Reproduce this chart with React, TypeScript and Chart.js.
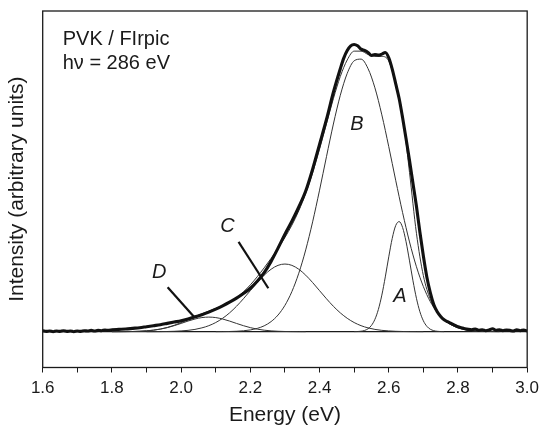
import React, { useEffect, useRef } from 'react';
import { Chart, registerables } from 'chart.js';

Chart.register(...registerables);

const FONT = '"Liberation Sans", Arial, Helvetica, sans-serif';
const INK = '#1a1a1a';

// ---- axis ----
const xMin = 1.6;
const xMax = 3.0;
const yMin = -108;
const yMax = 967;
const xTickValues = [1.6, 1.7, 1.8, 1.9, 2.0, 2.1, 2.2, 2.3, 2.4, 2.5, 2.6, 2.7, 2.8, 2.9, 3.0];
const xTickLabels = ['1.6', '', '1.8', '', '2.0', '', '2.2', '', '2.4', '', '2.6', '', '2.8', '', '3.0'];
const xTitle = 'Energy (eV)';
const yTitle = 'Intensity (arbitrary units)';

// ---- measured spectrum ----
const dataEnergy = [
  1.60, 1.61, 1.62, 1.63, 1.64, 1.65, 1.66, 1.67, 1.68, 1.69, 1.70, 1.71, 1.72, 1.73, 1.74, 1.75, 1.76, 1.77, 1.78, 1.79, 1.80,
  1.82, 1.84, 1.86, 1.88, 1.90, 1.92, 1.94, 1.96, 1.98, 2.00, 2.02, 2.04, 2.06, 2.08, 2.10, 2.12, 2.14, 2.16, 2.18, 2.20,
  2.22, 2.24, 2.26, 2.28, 2.30, 2.32, 2.34, 2.36, 2.38, 2.40, 2.42, 2.44, 2.46,
  2.47, 2.48, 2.49, 2.50, 2.51, 2.52, 2.53, 2.54, 2.55, 2.56, 2.57, 2.58, 2.59, 2.60,
  2.61, 2.62, 2.63, 2.64, 2.65, 2.66, 2.67, 2.68, 2.69, 2.70, 2.71, 2.72, 2.73, 2.74, 2.75, 2.76, 2.77, 2.78, 2.79, 2.80,
  2.81, 2.82, 2.83, 2.84, 2.85, 2.86, 2.87, 2.88, 2.89, 2.90, 2.91, 2.92, 2.93, 2.94, 2.95, 2.96, 2.97, 2.98, 2.99, 3.00,
];
const dataIntensity = [
  3, 1, 2, 0, 2, 1, 3, 1, 2, 0, 2, 1, 3, 2, 4, 2, 4, 3, 5, 4, 6,
  7, 8, 10, 12, 15, 18, 21, 25, 29, 33, 38, 45, 51, 59, 68, 78, 89, 101, 115, 131,
  152, 178, 212, 252, 294, 333, 376, 424, 490, 565, 640, 722, 793,
  825, 848, 862, 866, 862, 852, 848, 842, 833, 836, 834, 837, 842, 826,
  792, 748, 703, 645, 582, 516, 447, 378, 300, 228, 165, 118, 82, 60, 46, 36, 30, 25, 20, 15,
  12, 9, 7, 6, 8, 4, 6, 3, 5, 9, 4, 6, 3, 5, 4, 2, 6, 3, 5, 2,
];

// ---- total fit ----
const fitEnergy = [
  1.80, 1.82, 1.84, 1.86, 1.88, 1.90, 1.92, 1.94, 1.96, 1.98, 2.00,
  2.02, 2.04, 2.06, 2.08, 2.10, 2.12, 2.14, 2.16, 2.18, 2.20,
  2.22, 2.24, 2.26, 2.28, 2.30, 2.32, 2.34, 2.36, 2.38, 2.40,
  2.42, 2.44, 2.46, 2.48, 2.50, 2.52, 2.54, 2.56, 2.58, 2.60,
  2.62, 2.64, 2.66, 2.68, 2.70, 2.72, 2.74, 2.76, 2.78, 2.80,
  2.82, 2.84, 2.86, 2.88, 2.90, 2.92,
];
const fitIntensity = [
  0, 0.1, 0.3, 0.6, 1.3, 2.6, 4.7, 8.0, 12.8, 19.3, 27.2,
  36.0, 45.1, 54.0, 62.1, 70.2, 78.9, 89.3, 102.8, 120.1, 141.2,
  165.7, 192.6, 221.2, 251.5, 284.1, 321.1, 364.7, 417.0, 479.3, 550.5,
  627.0, 702.8, 769.6, 819.4, 846, 846, 836, 830, 830, 816,
  746, 652, 480, 296.6, 168.9, 98.0, 59.0, 35.6, 20.9, 11.8,
  6.4, 3.3, 1.7, 0.8, 0.4, 0,
];

// ---- component A ----
const peakAEnergy = [
  2.50, 2.51, 2.52, 2.53, 2.54, 2.55, 2.56, 2.57, 2.58, 2.59, 2.60, 2.61, 2.62, 2.63,
  2.64, 2.65, 2.66, 2.67, 2.68, 2.69, 2.70, 2.71, 2.72, 2.73, 2.74, 2.75, 2.76,
];
const peakAIntensity = [
  0.2, 0.5, 1.4, 3.7, 8.7, 18.9, 37.3, 67.2, 110.3, 165.2, 225.7, 281.3, 319.9, 332,
  314.1, 271.1, 213.5, 153.4, 100.6, 60.1, 32.8, 16.3, 7.4, 3.1, 1.2, 0.4, 0.1,
];

// ---- component B ----
const peakBEnergy = [
  2.10, 2.12, 2.14, 2.16, 2.18, 2.20, 2.22, 2.24, 2.26, 2.28, 2.30, 2.32, 2.34, 2.36, 2.38, 2.40,
  2.42, 2.44, 2.46, 2.48, 2.50, 2.52, 2.54, 2.56, 2.58, 2.60, 2.62, 2.64, 2.66, 2.68, 2.70,
  2.72, 2.74, 2.76, 2.78, 2.80, 2.82, 2.84, 2.86, 2.88, 2.90,
];
const peakBIntensity = [
  0.1, 0.3, 0.6, 1.3, 2.7, 5.3, 9.9, 17.7, 30.4, 50.2, 79.5, 120.8, 176.3, 246.6, 331.2, 426.8,
  527.7, 626.2, 712.9, 779.0, 816.8, 821.9, 793.6, 735.3, 653.8, 557.9, 456.7, 358.9, 270.6, 195.8, 136.0,
  90.6, 57.8, 35.5, 20.9, 11.8, 6.4, 3.3, 1.7, 0.8, 0.4,
];

// ---- component C ----
const peakCEnergy = [
  1.90, 1.92, 1.94, 1.96, 1.98, 2.00, 2.02, 2.04, 2.06, 2.08, 2.10, 2.12, 2.14, 2.16, 2.18, 2.20,
  2.22, 2.24, 2.26, 2.28, 2.30, 2.32, 2.34, 2.36, 2.38, 2.40, 2.42, 2.44, 2.46, 2.48, 2.50,
  2.52, 2.54, 2.56, 2.58, 2.60, 2.62, 2.64, 2.66, 2.68, 2.70,
];
const peakCIntensity = [
  0.07, 0.15, 0.3, 0.6, 1.2, 2.3, 4.0, 6.9, 11.5, 18.1, 27.6, 40.4, 56.7, 76.6, 99.3, 123.7,
  148.1, 170.4, 188.3, 200.0, 204, 200.0, 188.3, 170.4, 148.1, 123.7, 99.3, 76.6, 56.7, 40.4, 27.6,
  18.1, 11.5, 6.9, 4.0, 2.3, 1.2, 0.6, 0.3, 0.15, 0.07,
];

// ---- component D ----
const peakDEnergy = [
  1.80, 1.82, 1.84, 1.86, 1.88, 1.90, 1.92, 1.94, 1.96, 1.98, 2.00, 2.02, 2.04, 2.06, 2.08,
  2.10, 2.12, 2.14, 2.16, 2.18, 2.20, 2.22, 2.24, 2.26, 2.28, 2.30, 2.32, 2.34, 2.36,
];
const peakDIntensity = [
  0, 0.1, 0.3, 0.6, 1.3, 2.5, 4.5, 7.7, 12.2, 18.1, 24.9, 32.0, 38.2, 42.5, 44.0,
  42.5, 38.2, 32.0, 24.9, 18.1, 12.2, 7.7, 4.5, 2.5, 1.3, 0.6, 0.3, 0.1, 0,
];

// ---- baseline and leader lines ----
const baselineEnergy = [1.6, 3.0];
const baselineIntensity = [0, 0];
const leaderCEnergy = [2.166, 2.252];
const leaderCIntensity = [271, 131];
const leaderDEnergy = [1.961, 2.039];
const leaderDIntensity = [134, 43];

// ---- labels ----
const peakLabels = ['A', 'B', 'C', 'D'];
const peakLabelEnergy = [2.632, 2.508, 2.134, 1.937];
const peakLabelIntensity = [106, 624, 316, 180];
const insetLines = ['PVK / FIrpic', 'h\u03bd = 286 eV'];

const pts = (xs: number[], ys: number[]) => xs.map((x, i) => ({ x, y: ys[i] }));

const lineDs = (data: { x: number; y: number }[], width: number, color: string) => ({
  data,
  borderColor: color,
  borderWidth: width,
  pointRadius: 0,
  fill: false,
  cubicInterpolationMode: 'monotone' as const,
});

const annotationPlugin = {
  id: 'annotationPlugin',
  afterDatasetsDraw(chart: any) {
    const { ctx, chartArea, scales } = chart;
    const { left, top, right, bottom } = chartArea;
    ctx.save();
    ctx.strokeStyle = INK;
    ctx.lineWidth = 1.3;
    ctx.strokeRect(left, top, right - left, bottom - top);

    ctx.fillStyle = INK;
    ctx.font = `20px ${FONT}`;
    ctx.textAlign = 'left';
    ctx.textBaseline = 'alphabetic';
    insetLines.forEach((t, i) => ctx.fillText(t, left + 20, top + 34 + i * 23.5));

    ctx.font = `italic 20px ${FONT}`;
    ctx.textAlign = 'center';
    ctx.textBaseline = 'middle';
    peakLabels.forEach((t, i) => {
      ctx.fillText(
        t,
        scales.x.getPixelForValue(peakLabelEnergy[i]),
        scales.y.getPixelForValue(peakLabelIntensity[i])
      );
    });
    ctx.restore();
  },
};

export default function App() {
  const canvasRef = useRef<HTMLCanvasElement | null>(null);

  useEffect(() => {
    const canvas = canvasRef.current;
    if (!canvas) return;
    const chart = new Chart(canvas, {
      type: 'line',
      data: {
        datasets: [
          lineDs(pts(dataEnergy, dataIntensity), 3.1, '#111'),
          lineDs(pts(leaderCEnergy, leaderCIntensity), 2.2, '#111'),
          lineDs(pts(leaderDEnergy, leaderDIntensity), 2.2, '#111'),
          lineDs(pts(fitEnergy, fitIntensity), 1, '#333'),
          lineDs(pts(peakAEnergy, peakAIntensity), 1, '#333'),
          lineDs(pts(peakBEnergy, peakBIntensity), 1, '#333'),
          lineDs(pts(peakCEnergy, peakCIntensity), 1, '#333'),
          lineDs(pts(peakDEnergy, peakDIntensity), 1, '#333'),
          lineDs(pts(baselineEnergy, baselineIntensity), 1.3, INK),
        ],
      },
      options: {
        animation: false,
        responsive: false,
        devicePixelRatio: 1,
        events: [],
        layout: { padding: { top: 11, right: 15.7, left: 0, bottom: 0 } },
        plugins: { legend: { display: false }, tooltip: { enabled: false } },
        scales: {
          x: {
            type: 'linear',
            min: xMin,
            max: xMax,
            afterBuildTicks: (scale: any) => {
              scale.ticks = xTickValues.map((v) => ({ value: v }));
            },
            afterFit: (scale: any) => {
              scale.height = 66.5;
            },
            ticks: {
              autoSkip: false,
              maxRotation: 0,
              padding: 6,
              color: INK,
              font: { family: FONT, size: 17 },
              callback: (_v: any, i: number) => xTickLabels[i],
            },
            grid: { drawOnChartArea: false, drawTicks: true, tickLength: 5, color: INK, lineWidth: 1 },
            border: { display: false },
            title: {
              display: true,
              text: xTitle,
              color: INK,
              font: { family: FONT, size: 21 },
              padding: { top: 0, bottom: 6 },
            },
          },
          y: {
            type: 'linear',
            min: yMin,
            max: yMax,
            afterFit: (scale: any) => {
              scale.width = 42.7;
            },
            ticks: { display: false },
            grid: { display: false },
            border: { display: false },
            title: {
              display: true,
              text: yTitle,
              color: INK,
              font: { family: FONT, size: 21 },
              padding: { top: 5, bottom: 0 },
            },
          },
        },
      },
      plugins: [annotationPlugin],
    } as any);
    return () => chart.destroy();
  }, []);

  return (
    <canvas
      ref={canvasRef}
      width={545}
      height={434}
      style={{ position: 'fixed', left: 0, top: 0, display: 'block', background: '#fff' }}
    />
  );
}
